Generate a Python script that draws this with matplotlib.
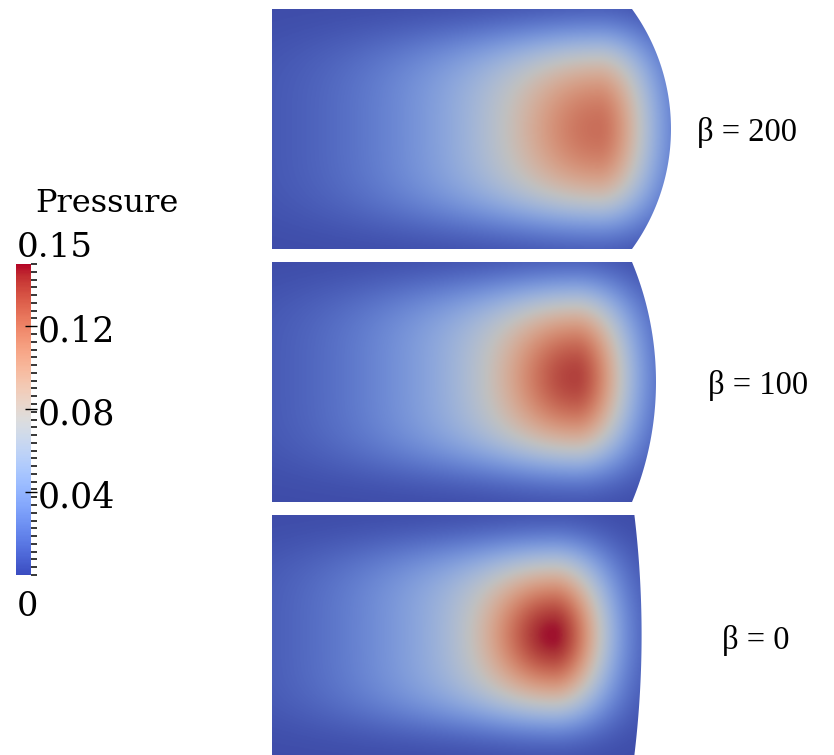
import numpy as np
import matplotlib
matplotlib.use("Agg")
import matplotlib.pyplot as plt
import matplotlib.transforms as mtransforms
from matplotlib.path import Path
from matplotlib.patches import PathPatch
from matplotlib.ticker import FixedLocator
from matplotlib.colors import ListedColormap

# ---------------- data ----------------
beta_labels = ["β = 200", "β = 100", "β = 0"]
bulge = [0.1625, 0.10, 0.03]          # right-edge bulge (panel heights = 1)
flat_len = [1.5, 1.5, 1.51]
peak_x = [1.354, 1.2625, 1.17]
peak_y = [0.0, 0.02, 0.0]
core_amp = [0.052, 0.068, 0.080]
broad_amp = [0.072, 0.072, 0.070]
core_sx_left = [0.36, 0.31, 0.28]
core_sx_right = [0.26, 0.25, 0.24]
core_sy = [0.31, 0.29, 0.26]
broad_sx_left = [0.85, 0.82, 0.80]
broad_sx_right = [0.24, 0.24, 0.24]
broad_sy = [0.40, 0.39, 0.38]

cbar_min, cbar_max = 0.0, 0.15
cbar_major = [0.04, 0.08, 0.12]
cbar_major_labels = ["0.04", "0.08", "0.12"]
cbar_title = "Pressure"

# ---------------- layout ----------------
W, H = 834, 755
fig = plt.figure(figsize=(W / 100, H / 100), dpi=100)
panel_top = [9, 262, 515]
panel_h = 240
panel_left = 272
label_pos = [(697, 133), (708, 385), (722, 640)]

cmap = plt.get_cmap("coolwarm")
# shaded version of the colour map (rendering with lighting looks darker, muted)
base = cmap(np.linspace(0, 1, 256))[:, :3]
field_cmap = ListedColormap(np.clip(base * 0.8 + 0.06, 0, 1))

for i in range(3):
    L = flat_len[i]
    b = bulge[i]
    xmax = L + b
    ax = fig.add_axes([panel_left / W, (H - panel_top[i] - panel_h) / H,
                       xmax * panel_h / W, panel_h / H])
    ax.set_xlim(0, xmax)
    ax.set_ylim(-0.5, 0.5)
    ax.axis("off")

    x = np.linspace(0, xmax, 500)
    y = np.linspace(-0.5, 0.5, 300)
    X, Y = np.meshgrid(x, y)
    dx = X - peak_x[i]
    dy = Y - peak_y[i]
    sxc = np.where(dx < 0, core_sx_left[i], core_sx_right[i])
    sxb = np.where(dx < 0, broad_sx_left[i], broad_sx_right[i])
    P = (core_amp[i] * np.exp(-(dx / sxc) ** 2 - (dy / core_sy[i]) ** 2)
         + broad_amp[i] * np.exp(-(dx / sxb) ** 2) * np.exp(-(dy / broad_sy[i]) ** 4))

    im = ax.imshow(P, extent=[0, xmax, -0.5, 0.5], origin="lower", cmap=field_cmap,
                   vmin=cbar_min, vmax=cbar_max, aspect="auto",
                   interpolation="bilinear")
    # shape: rectangle with circular arc on right
    R = (0.25 + b ** 2) / (2 * b)
    cx = L + b - R
    th0 = np.arcsin(0.5 / R)
    th = np.linspace(-th0, th0, 80)
    arc = np.column_stack([cx + R * np.cos(th), R * np.sin(th)])
    verts = np.vstack([[[0, -0.5]], arc, [[0, 0.5]], [[0, -0.5]]])
    path = Path(verts)
    patch = PathPatch(path, facecolor="none", edgecolor="none", transform=ax.transData)
    ax.add_patch(patch)
    im.set_clip_path(patch)

    fig.text(label_pos[i][0] / W, 1 - label_pos[i][1] / H, beta_labels[i],
             fontsize=23.5, family=["Liberation Serif", "DejaVu Serif"],
             ha="left", va="center")

# ---------------- colorbar ----------------
cax = fig.add_axes([16 / W, (H - 575) / H, 15 / W, 311 / H])
sm = matplotlib.cm.ScalarMappable(cmap=cmap, norm=plt.Normalize(cbar_min, cbar_max))
cb = fig.colorbar(sm, cax=cax, orientation="vertical")
cb.outline.set_visible(False)
cb.set_ticks(cbar_major)
cb.set_ticklabels(cbar_major_labels)
cax.yaxis.set_minor_locator(FixedLocator(np.arange(cbar_min, cbar_max + 1e-9, 0.00375)))
cax.tick_params(which="major", direction="inout", length=9, width=1, pad=0,
                labelsize=25, colors="black")
cax.tick_params(which="minor", direction="out", length=4, width=1.1, colors="black")
offset = mtransforms.ScaledTranslation(0, -5 / 100, fig.dpi_scale_trans)
for t in cax.get_yticklabels():
    t.set_family(["DejaVu Serif"])
    t.set_va("center")
    t.set_transform(t.get_transform() + offset)
cax.text(0.05, 1.0, "0.15", transform=cax.transAxes, ha="left", va="bottom",
         fontsize=24.5, family=["DejaVu Serif"])
cax.text(0.05, -0.05, "0", transform=cax.transAxes, ha="left", va="top",
         fontsize=24, family=["DejaVu Serif"])
fig.text(35 / W, 1 - 203 / H, cbar_title, fontsize=23, family=["DejaVu Serif"],
         ha="left", va="center")

fig.savefig("out.png", dpi=100)
